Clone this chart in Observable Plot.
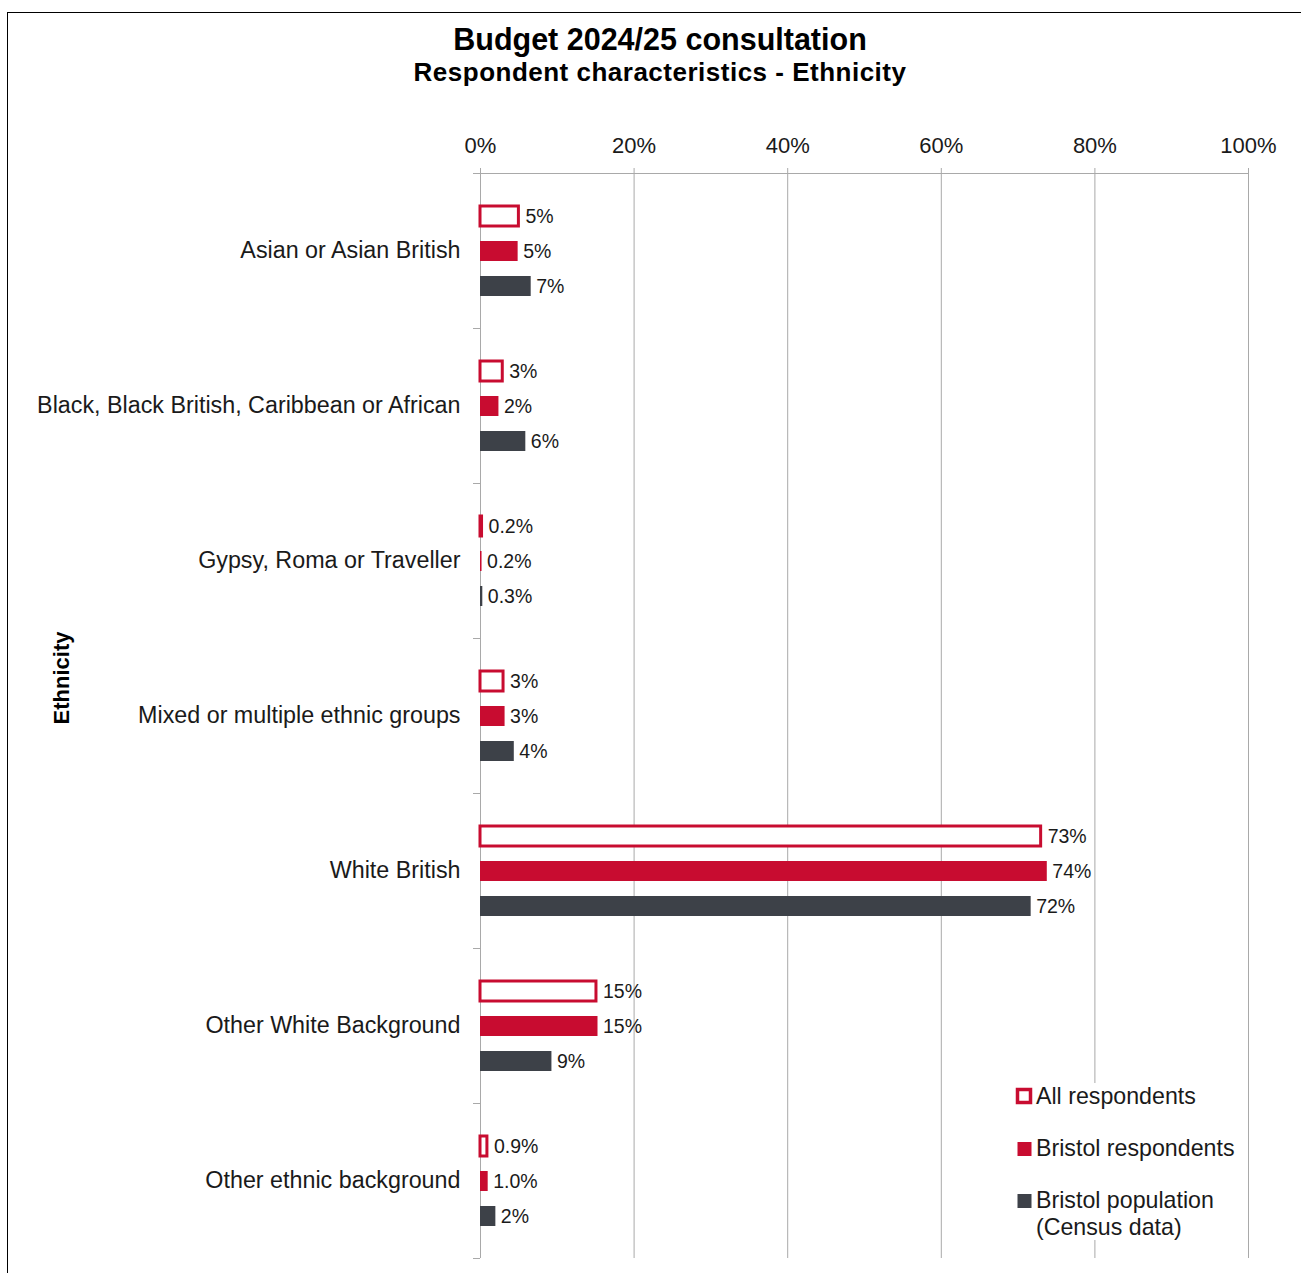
<!DOCTYPE html>
<html>
<head>
<meta charset="utf-8">
<script src="https://cdn.jsdelivr.net/npm/d3@7"></script>
<script src="https://cdn.jsdelivr.net/npm/@observablehq/plot@0.6"></script>
<style>
  html, body { margin: 0; padding: 0; background: #fff; }
  body { width: 1301px; height: 1273px; overflow: hidden; position: relative; font-family: "Liberation Sans", Arial, sans-serif; }
  #frame { position: absolute; left: 7px; top: 12px; width: 1400px; height: 1400px; border: 1px solid #000; box-sizing: border-box; }
  #chart { position: absolute; left: 0; top: 100px; }
  #overlay { position: absolute; left: 0; top: 0; }
</style>
</head>
<body>
<div id="frame"></div>
<div id="chart"></div>
<svg id="overlay" width="1301" height="1273"></svg>
<script>
// ---- Data ----
const categories = [
  "Asian or Asian British",
  "Black, Black British, Caribbean or African",
  "Gypsy, Roma or Traveller",
  "Mixed or multiple ethnic groups",
  "White British",
  "Other White Background",
  "Other ethnic background"
];
const seriesNames = ["All respondents", "Bristol respondents", "Bristol population (Census data)"];
const allRespondents     = [5.0, 2.9, 0.2, 3.0, 73.0, 15.1, 0.9];
const bristolRespondents = [4.9, 2.4, 0.2, 3.2, 73.8, 15.3, 1.0];
const bristolPopulation  = [6.6, 5.9, 0.3, 4.4, 71.7, 9.3, 2.0];
const xTicks = [0, 20, 40, 60, 80, 100];

const title = "Budget 2024/25 consultation";
const subtitle = "Respondent characteristics - Ethnicity";
const yTitle = "Ethnicity";

// ---- Styles ----
const red = "#C80C30";
const dark = "#3D4148";
const gridColor = "#A9A9A9";
const textColor = "#1a1a1a";
const font = '"Liberation Sans", Arial, sans-serif';

const seriesValues = [allRespondents, bristolRespondents, bristolPopulation];
const data = categories.flatMap((c, i) =>
  seriesNames.map((s, j) => ({category: c, series: s, value: seriesValues[j][i]}))
);
const fmt = v => v < 1.5 ? v.toFixed(1) + "%" : Math.round(v) + "%";

// small boundary ticks at the top and bottom of each category band
function boundaryTicks(index, scales, values, dims) {
  const g = d3.create("svg:g").attr("stroke", gridColor).attr("stroke-width", 1);
  const x0 = dims.marginLeft;
  [dims.marginTop, dims.height - dims.marginBottom].forEach(y => {
    g.append("line").attr("x1", x0 - 7).attr("x2", x0).attr("y1", y + 0.5).attr("y2", y + 0.5);
  });
  return g.node();
}

const hollow = data.filter(d => d.series === seriesNames[0]);
const solid = data.filter(d => d.series !== seriesNames[0]);

const chart = Plot.plot({
  width: 1301,
  height: 1173,
  marginTop: 72,
  marginBottom: 14,
  marginLeft: 480,
  marginRight: 53,
  style: {fontFamily: font, background: "transparent", color: textColor},
  x: {domain: [0, 100], axis: null},
  y: {domain: seriesNames, paddingInner: 0.433, paddingOuter: 0.916, axis: null},
  fy: {domain: categories, padding: 0, axis: null, label: null},
  color: {domain: seriesNames.slice(1), range: [red, dark]},
  marks: [
    Plot.gridX(xTicks, {stroke: gridColor, strokeOpacity: 1, strokeWidth: 1}),
    Plot.frame({anchor: "top", facet: "super", stroke: gridColor, strokeWidth: 1}),
    boundaryTicks,
    Plot.axisX(xTicks, {anchor: "top", tickSize: 6, tickPadding: 15, tickFormat: d => d + "%",
      fontSize: 22, stroke: gridColor, fill: textColor, label: null}),
    Plot.axisFy({anchor: "left", tickSize: 0, tickPadding: 20, fontSize: 23.3, fill: textColor, label: null}),
    Plot.barX(hollow, {fy: "category", y: "series", x: "value", fill: "#fff", stroke: red, strokeWidth: 3}),
    Plot.barX(solid, {fy: "category", y: "series", x: "value", fill: "series"}),
    Plot.text(hollow, {fy: "category", y: "series", x: "value", text: d => fmt(d.value),
      textAnchor: "start", dx: 6.5, fontSize: 19.5, fill: textColor}),
    Plot.text(solid, {fy: "category", y: "series", x: "value", text: d => fmt(d.value),
      textAnchor: "start", dx: 5, fontSize: 19.5, fill: textColor})
  ]
});
document.getElementById("chart").appendChild(chart);

// ---- Titles, axis title and legend ----
const ov = d3.select("#overlay").attr("font-family", font);
ov.append("text").attr("x", 660).attr("y", 49.5).attr("text-anchor", "middle")
  .attr("font-size", 30.5).attr("font-weight", "bold").attr("fill", "#000").text(title);
ov.append("text").attr("x", 660).attr("y", 81).attr("text-anchor", "middle")
  .attr("font-size", 26).attr("font-weight", "bold").attr("letter-spacing", 0.5).attr("fill", "#000").text(subtitle);
ov.append("text").attr("transform", "translate(69,678) rotate(-90)").attr("text-anchor", "middle")
  .attr("font-size", 22).attr("font-weight", "bold").attr("fill", "#000").text(yTitle);

const lg = ov.append("g");
lg.append("rect").attr("x", 1010).attr("y", 1083).attr("width", 230).attr("height", 157).attr("fill", "#fff");
const legendRows = [
  {name: seriesNames[0], lines: ["All respondents"], baseline: 1104},
  {name: seriesNames[1], lines: ["Bristol respondents"], baseline: 1156},
  {name: seriesNames[2], lines: ["Bristol population", "(Census data)"], baseline: 1208}
];
legendRows.forEach((r, i) => {
  if (i === 0) {
    lg.append("rect").attr("x", 1017.5).attr("y", r.baseline - 14.5).attr("width", 13).attr("height", 13)
      .attr("fill", "#fff").attr("stroke", red).attr("stroke-width", 3.5);
  } else {
    lg.append("rect").attr("x", 1017.5).attr("y", r.baseline - 14).attr("width", 14).attr("height", 14)
      .attr("fill", i === 1 ? red : dark);
  }
  r.lines.forEach((t, k) => {
    lg.append("text").attr("x", 1036).attr("y", r.baseline + k * 27).attr("font-size", 23.2)
      .attr("fill", textColor).text(t);
  });
});
</script>
</body>
</html>
